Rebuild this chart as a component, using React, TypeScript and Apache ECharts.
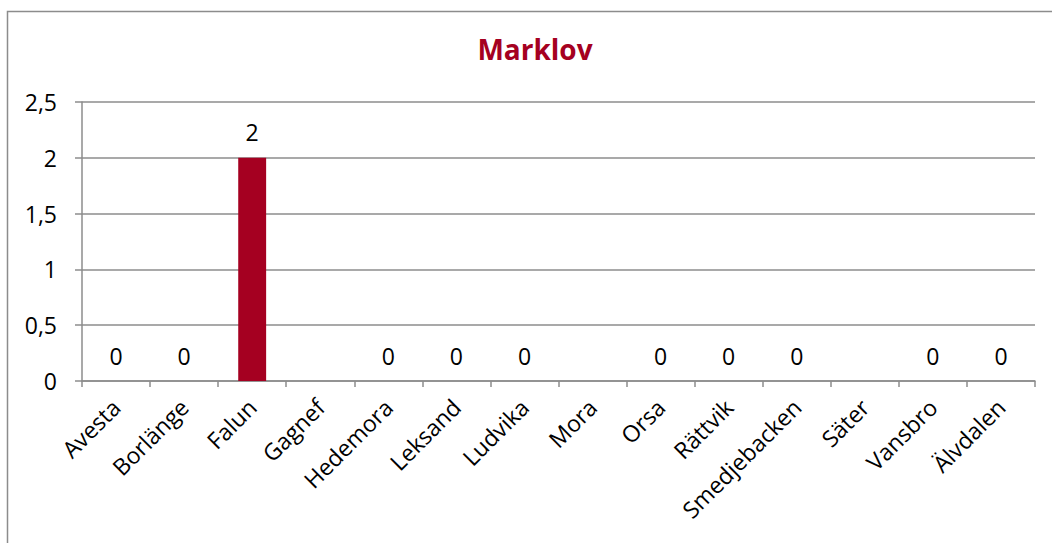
import React, { useEffect, useRef } from "react";
import * as echarts from "echarts";

const categories = ["Avesta", "Borlänge", "Falun", "Gagnef", "Hedemora", "Leksand", "Ludvika", "Mora", "Orsa", "Rättvik", "Smedjebacken", "Säter", "Vansbro", "Älvdalen"];
const values: (number | null)[] = [0, 0, 2, null, 0, 0, 0, null, 0, 0, 0, null, 0, 0];
const yTicks = [0, 0.5, 1, 1.5, 2, 2.5];

const FONT = "'Open Sans', 'Noto Sans', sans-serif";

export default function App() {
  const ref = useRef<HTMLDivElement>(null);
  useEffect(() => {
    if (!ref.current) return;
    const chart = echarts.init(ref.current, undefined, { renderer: "svg" });
    chart.setOption({
      animation: false,
      backgroundColor: "#ffffff",
      title: {
        text: "Marklov",
        left: 530,
        top: 30,
        textAlign: "center",
        textStyle: { color: "#A50021", fontSize: 28, fontWeight: "bold", fontFamily: FONT },
      },
      graphic: [
        {
          type: "rect",
          shape: { x: 7.5, y: 11.5, width: 1100, height: 600 },
          style: { fill: "none", stroke: "#8c8c8c", lineWidth: 1.5 },
          silent: true,
        },
      ],
      grid: { left: 82, right: 17, top: 102, bottom: 162, containLabel: false },
      xAxis: {
        type: "category",
        data: categories,
        axisLine: { show: true, lineStyle: { color: "#8c8c8c", width: 1.5 } },
        axisTick: { show: true, length: 6, alignWithLabel: false, lineStyle: { color: "#8c8c8c", width: 1.5 } },
        axisLabel: { rotate: 45, fontSize: 23, color: "#000", fontFamily: FONT, margin: 22, interval: 0 },
        splitLine: { show: false },
      },
      yAxis: {
        type: "value",
        min: 0,
        max: 2.5,
        interval: 0.5,
        axisLine: { show: true, lineStyle: { color: "#8c8c8c", width: 1.5 } },
        axisTick: { show: true, length: 7, lineStyle: { color: "#8c8c8c", width: 1.5 } },
        axisLabel: {
          fontSize: 23,
          color: "#000",
          fontFamily: FONT,
          margin: 25,
          formatter: (v: number) => (yTicks.includes(v) ? String(v).replace(".", ",") : ""),
        },
        splitLine: { show: true, lineStyle: { color: "#8c8c8c", width: 1.5 } },
      },
      series: [
        {
          type: "bar",
          data: values,
          barWidth: "41%",
          itemStyle: { color: "#A50021" },
          label: {
            show: true,
            position: "top",
            distance: 14,
            fontSize: 23,
            color: "#000",
            fontFamily: FONT,
            formatter: (p: any) => (p.value === null || p.value === undefined ? "" : String(p.value).replace(".", ",")),
          },
        },
      ],
    });
    return () => chart.dispose();
  }, []);
  return <div ref={ref} style={{ position: "absolute", left: 0, top: 0, width: 1052, height: 543 }} />;
}
